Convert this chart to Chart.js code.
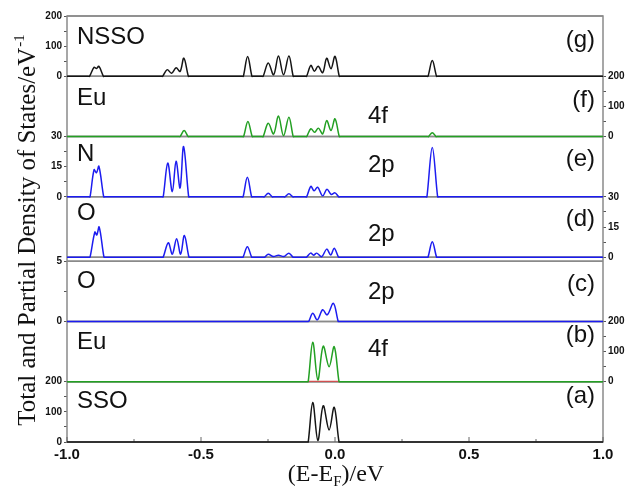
<!DOCTYPE html>
<html><head><meta charset="utf-8">
<script src="https://cdn.jsdelivr.net/npm/chart.js@4"></script>
<style>html,body{margin:0;padding:0;background:#fff}canvas{display:block}</style>
</head><body>
<canvas id="c" width="626" height="491"></canvas>
<script>
// ---------------- data ----------------
const xTickLabels = ['-1.0', '-0.5', '0.0', '0.5', '1.0'];
const panelNames  = ['NSSO', 'Eu', 'N', 'O', 'O', 'Eu', 'SSO'];
const panelTags   = ['(g)', '(f)', '(e)', '(d)', '(c)', '(b)', '(a)'];
const orbitalTags = ['', '4f', '2p', '2p', '2p', '4f', ''];

// (g) NSSO total DOS
const nssoE   = [-1.0, -0.920, -0.916, -0.899, -0.890, -0.881, -0.864, -0.860,
                 -0.647, -0.643, -0.626, -0.610, -0.593, -0.578, -0.564, -0.547, -0.543,
                 -0.346, -0.342, -0.326, -0.310, -0.306,
                 -0.272, -0.268, -0.249, -0.229, -0.211, -0.192, -0.172, -0.156, -0.152,
                 -0.110, -0.106, -0.090, -0.077, -0.063, -0.046, -0.031, -0.015, 0.000, 0.016, 0.020,
                 0.343, 0.347, 0.363, 0.379, 0.383, 1.0];
const nssoDOS = [0, 0, 0, 30, 26, 33, 0, 0,
                 0, 0, 22, 10, 28, 16, 60, 0, 0,
                 0, 0, 66, 0, 0,
                 0, 0, 44, 5, 67, 5, 67, 0, 0,
                 0, 0, 36, 17, 33, 12, 60, 25, 66, 0, 0,
                 0, 0, 52, 0, 0, 0];
// (f) Eu 4f in NSSO
const nEu4fE   = [-1.0, -0.582, -0.578, -0.563, -0.548, -0.544,
                  -0.345, -0.341, -0.325, -0.309, -0.305,
                  -0.272, -0.268, -0.249, -0.229, -0.211, -0.192, -0.172, -0.156, -0.152,
                  -0.110, -0.106, -0.090, -0.076, -0.062, -0.046, -0.031, -0.015, 0.000, 0.016, 0.020,
                  0.345, 0.349, 0.363, 0.377, 0.381, 1.0];
const nEu4fDOS = [0, 0, 0, 20, 0, 0,
                  0, 0, 50, 0, 0,
                  0, 0, 44, 9, 68, 3, 64, 0, 0,
                  0, 0, 26, 14, 28, 9, 53, 20, 59, 0, 0,
                  0, 0, 13, 0, 0, 0];
// (e) N 2p in NSSO
const n2pE   = [-1.0, -0.918, -0.914, -0.899, -0.890, -0.881, -0.863, -0.859,
                -0.645, -0.641, -0.624, -0.607, -0.593, -0.578, -0.565, -0.546, -0.542,
                -0.347, -0.343, -0.327, -0.311, -0.307,
                -0.268, -0.264, -0.249, -0.234, -0.230,
                -0.191, -0.187, -0.172, -0.157, -0.153,
                -0.110, -0.106, -0.090, -0.078, -0.065, -0.046, -0.030, -0.014, 0.000, 0.014, 0.018,
                0.339, 0.343, 0.363, 0.383, 0.387, 1.0];
const n2pDOS = [0, 0, 0, 13.5, 12, 15.2, 0, 0,
                0, 0, 16.8, 2.6, 17.7, 4.4, 25, 0, 0,
                0, 0, 9.7, 0, 0,
                0, 0, 1.8, 0, 0,
                0, 0, 1.5, 0, 0,
                0, 0, 5.2, 3, 4.8, 0.5, 3.8, 1.2, 2, 0, 0,
                0, 0, 24.6, 0, 0, 0];
// (d) O 2p in NSSO
const nO2pE   = [-1.0, -0.918, -0.914, -0.896, -0.889, -0.880, -0.862, -0.858,
                 -0.645, -0.641, -0.622, -0.607, -0.591, -0.576, -0.562, -0.545, -0.541,
                 -0.347, -0.343, -0.327, -0.311, -0.307,
                 -0.266, -0.262, -0.249, -0.230, -0.211, -0.191, -0.172, -0.157, -0.153,
                 -0.110, -0.106, -0.091, -0.080, -0.068, -0.050, -0.031, -0.016, -0.003, 0.013, 0.017,
                 0.343, 0.347, 0.363, 0.379, 0.383, 1.0];
const nO2pDOS = [0, 0, 0, 12.5, 11, 15, 0, 0,
                 0, 0, 7.2, 1.5, 9.2, 1.5, 10.8, 0, 0,
                 0, 0, 5.2, 0, 0,
                 0, 0, 1.5, 0.3, 1.0, 0.3, 2.0, 0, 0,
                 0, 0, 2, 1, 2, 0.2, 4, 1.1, 4.4, 0, 0,
                 0, 0, 7.7, 0, 0, 0];
// (c) O 2p in SSO
const sO2pE   = [-1.0, -0.102, -0.098, -0.083, -0.066, -0.046, -0.029, -0.006, 0.012, 0.016, 1.0];
const sO2pDOS = [0, 0, 0, 0.67, 0.13, 0.97, 0.55, 1.5, 0, 0, 0];
// (b) Eu 4f in SSO (+ small red component near the base)
const sEu4fE   = [-1.0, -0.104, -0.100, -0.083, -0.064, -0.044, -0.022, -0.003, 0.015, 0.019, 1.0];
const sEu4fDOS = [0, 0, 0, 131, 6, 118, 50, 116, 0, 0, 0];
const sEuRedE   = [-0.104, -0.095, -0.040, 0.010, 0.018];
const sEuRedDOS = [0, 1.2, 1.2, 1.2, 0];
// (a) SSO total DOS
const ssoE   = [-1.0, -0.104, -0.100, -0.083, -0.064, -0.044, -0.022, -0.003, 0.015, 0.019, 1.0];
const ssoDOS = [0, 0, 0, 131, 5, 120, 40, 115, 0, 0, 0];

// axis ranges per panel (top -> bottom)
const panelMax  = [200, 200, 30, 30, 5, 200, 200];
const panelStep = [50, 50, 7.5, 7.5, 2.5, 50, 50];
const panelMajor = [100, 100, 15, 15, 5, 100, 100];
const leftLabelled  = [true, false, true, false, true, false, true];
const rightLabelled = [false, true, false, true, false, true, false];

// ---------------- chart ----------------
const BLACK = '#151515', GREEN = '#23a023', BLUE = '#1c1cf0', RED = '#d05050';
const ids = ['g', 'f', 'e', 'd', 'gap', 'c', 'b', 'a'];
const pts = (E, D) => E.map((e, i) => ({x: e, y: D[i]}));

const scales = {
  x: {
    type: 'linear', position: 'bottom', min: -1, max: 1,
    grid: {display: false, drawTicks: false}, border: {display: false},
    ticks: {
      stepSize: 0.25, autoSkip: false, maxRotation: 0, padding: 4, color: '#111',
      font: {family: '"Liberation Sans", Arial, sans-serif', size: 15, weight: 'bold'},
      callback: (v, i) => (i % 2 === 0 ? xTickLabels[i / 2] : '')
    },
    afterFit: s => { s.height = 49; }
  }
};
ids.forEach((id, k) => {
  const p = id === 'gap' ? -1 : (k < 4 ? k : k - 1);
  const isGap = p < 0;
  const base = {
    type: 'linear', min: 0, max: isGap ? 1 : panelMax[p],
    stackWeight: isGap ? 0.066 : 1,
    border: {display: false},
  };
  ['L', 'R'].forEach(side => {
    const show = !isGap && (side === 'L' ? leftLabelled[p] : rightLabelled[p]);
    scales[side + id] = Object.assign({}, base, {
      position: side === 'L' ? 'left' : 'right',
      stack: side,
      weight: side === 'L' ? 20 - k : k,
      grid: {display: show, drawOnChartArea: false, tickLength: 3, color: '#555', tickColor: '#555'},
      ticks: {
        display: show, autoSkip: false, padding: 2, color: '#111',
        stepSize: isGap ? 1 : panelStep[p],
        font: {family: '"Liberation Sans", Arial, sans-serif', size: 10, weight: 'bold'},
        callback: v => (isGap ? '' : (Math.abs(v % panelMajor[p]) < 1e-9 ? String(v) : ''))
      },
      afterFit: s => { s.width = side === 'L' ? 67 : 23; }
    });
  });
});

const ds = (E, D, color, panel, extra) => Object.assign({
  data: pts(E, D), borderColor: color, backgroundColor: 'rgba(0,0,0,0)',
  borderWidth: 1.5, pointRadius: 0,
  cubicInterpolationMode: 'default', tension: 0.35, fill: false, clip: false,
  xAxisID: 'x', yAxisID: 'L' + panel
}, extra || {});

const datasets = [
  ds(nssoE, nssoDOS, BLACK, 'g'),
  ds(nEu4fE, nEu4fDOS, GREEN, 'f'),
  ds(n2pE, n2pDOS, BLUE, 'e'),
  ds(nO2pE, nO2pDOS, BLUE, 'd'),
  ds(sO2pE, sO2pDOS, BLUE, 'c'),
  ds(sEu4fE, sEu4fDOS, GREEN, 'b'),
  ds(sEuRedE, sEuRedDOS, RED, 'b', {borderWidth: 1.2, tension: 0}),
  ds(ssoE, ssoDOS, BLACK, 'a')
];

const nameDy = [21.5, 22.5, 17.5, 17, 20, 21, 20];
const tagDy  = [24, 24, 23, 22.5, 23, 14, 15];
const orbDy  = [0, 40, 29, 38, 31, 28, 0];
const panelIds = ['g', 'f', 'e', 'd', 'c', 'b', 'a'];

const deco = {
  id: 'deco',
  beforeDatasetsDraw(chart) {
    const {ctx, chartArea: a} = chart;
    ctx.save();
    ctx.strokeStyle = '#8a8a8a';
    ctx.lineWidth = 1.5;
    ctx.strokeRect(a.left, a.top, a.right - a.left, a.bottom - a.top);
    ids.forEach(id => {
      const s = chart.scales['L' + id];
      [s.top, s.bottom].forEach(y => {
        ctx.beginPath(); ctx.moveTo(a.left, y); ctx.lineTo(a.right, y); ctx.stroke();
      });
    });
    // inward x ticks
    const xs = chart.scales.x;
    ctx.lineWidth = 1;
    ctx.strokeStyle = '#666';
    xs.ticks.forEach((t, i) => {
      const px = xs.getPixelForValue(t.value);
      const len = i % 2 === 0 ? 5 : 3;
      ctx.beginPath(); ctx.moveTo(px, a.bottom); ctx.lineTo(px, a.bottom - len); ctx.stroke();
    });
    ctx.restore();
  },
  afterDraw(chart) {
    const {ctx, chartArea: a} = chart;
    ctx.save();
    ctx.fillStyle = '#111';
    ctx.font = '24px "Liberation Sans", Arial, sans-serif';
    ctx.textBaseline = 'middle';
    panelIds.forEach((id, p) => {
      const s = chart.scales['L' + id];
      ctx.textAlign = 'left';
      ctx.fillText(panelNames[p], a.left + 10, s.top + nameDy[p]);
      if (orbitalTags[p]) ctx.fillText(orbitalTags[p], a.left + 301, s.top + orbDy[p]);
      ctx.textAlign = 'right';
      ctx.fillText(panelTags[p], a.right - 8, s.top + tagDy[p]);
    });
    // y title
    const serif = '"Liberation Serif", "Times New Roman", serif';
    ctx.save();
    ctx.translate(35, 230);
    ctx.rotate(-Math.PI / 2);
    ctx.textBaseline = 'alphabetic';
    ctx.textAlign = 'left';
    const main = 'Total and Partial Density of States/eV';
    ctx.font = '25px ' + serif;
    const w1 = ctx.measureText(main).width;
    ctx.font = '15px ' + serif;
    const w2 = ctx.measureText('-1').width;
    const x0 = -(w1 + w2 + 1) / 2;
    ctx.font = '25px ' + serif;
    ctx.fillText(main, x0, 0);
    ctx.font = '15px ' + serif;
    ctx.fillText('-1', x0 + w1 + 1, -11);
    ctx.restore();
    // x title
    ctx.textBaseline = 'alphabetic';
    ctx.textAlign = 'left';
    ctx.font = '24px ' + serif;
    const t1 = '(E-E', t3 = ')/eV';
    const a1 = ctx.measureText(t1).width, a3 = ctx.measureText(t3).width;
    ctx.font = '15px ' + serif;
    const a2 = ctx.measureText('F').width;
    const sx = 336 - (a1 + a2 + a3) / 2;
    ctx.font = '24px ' + serif;
    ctx.fillText(t1, sx, 481);
    ctx.font = '15px ' + serif;
    ctx.fillText('F', sx + a1, 486);
    ctx.font = '24px ' + serif;
    ctx.fillText(t3, sx + a1 + a2, 481);
    ctx.restore();
  }
};

new Chart(document.getElementById('c'), {
  type: 'line',
  data: {datasets},
  options: {
    responsive: false, animation: false, devicePixelRatio: 1,
    layout: {padding: {top: 16, left: 0, right: 0, bottom: 0}},
    plugins: {legend: {display: false}, tooltip: {enabled: false}},
    scales
  },
  plugins: [deco]
});
</script>
</body></html>
